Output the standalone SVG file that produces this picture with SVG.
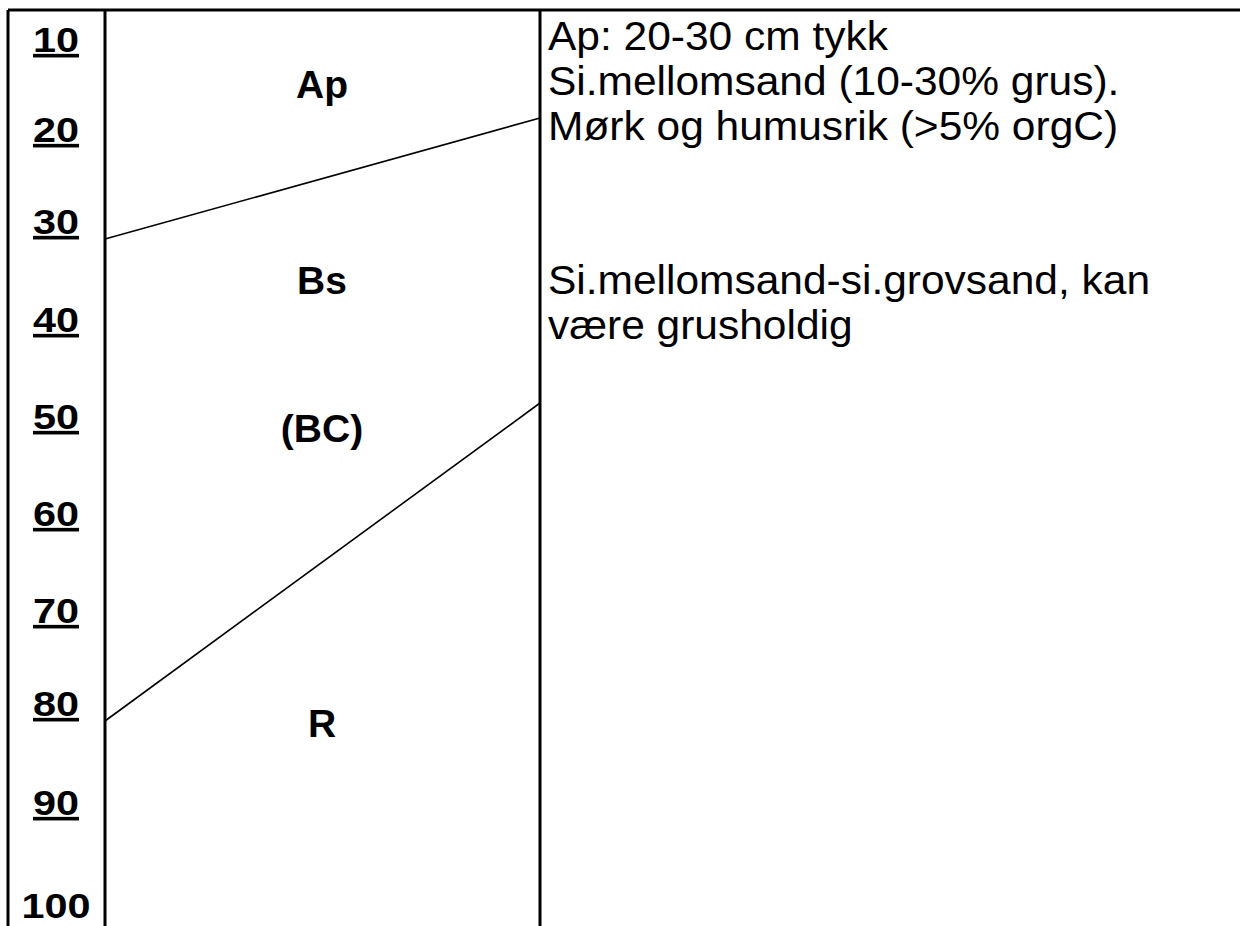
<svg xmlns="http://www.w3.org/2000/svg" width="1240" height="926" viewBox="0 0 1240 926">
<style>
.frame{stroke:#000;stroke-width:3;fill:none}
.conn{stroke:#000;stroke-width:1.6;fill:none}
.num{font-family:"Liberation Sans",Arial,sans-serif;font-weight:bold;font-size:36px;text-anchor:middle;fill:#000}
.ul{text-decoration:underline}
.hz{font-family:"Liberation Sans",Arial,sans-serif;font-weight:bold;font-size:39px;text-anchor:middle;fill:#000}
.desc{font-family:"Liberation Sans",Arial,sans-serif;font-size:40px;fill:#000}
</style>
<rect width="1240" height="926" fill="#fff"/>
<g id="frame">
<line class="frame" x1="8" y1="10" x2="1240" y2="10"/>
<line class="frame" x1="8" y1="10" x2="8" y2="926"/>
<line class="frame" x1="105" y1="10" x2="105" y2="926"/>
<line class="frame" x1="540" y1="10" x2="540" y2="926"/>
</g>
<g id="depth-scale">
<text class="num ul" transform="translate(56,52) scale(1.15,1)">10</text>
<text class="num ul" transform="translate(56,142) scale(1.15,1)">20</text>
<text class="num ul" transform="translate(56,234) scale(1.15,1)">30</text>
<text class="num ul" transform="translate(56,332) scale(1.15,1)">40</text>
<text class="num ul" transform="translate(56,429) scale(1.15,1)">50</text>
<text class="num ul" transform="translate(56,526) scale(1.15,1)">60</text>
<text class="num ul" transform="translate(56,623) scale(1.15,1)">70</text>
<text class="num ul" transform="translate(56,716) scale(1.15,1)">80</text>
<text class="num ul" transform="translate(56,815) scale(1.15,1)">90</text>
<text class="num" transform="translate(56,918) scale(1.15,1)">100</text>
</g>
<g id="horizon-Ap"><text class="hz" x="322" y="98">Ap</text></g>
<g id="horizon-Bs"><text class="hz" x="322" y="294">Bs</text></g>
<g id="horizon-BC"><text class="hz" x="322" y="442">(BC)</text></g>
<g id="horizon-R"><text class="hz" x="322" y="737">R</text></g>
<g id="desc-Ap" transform="translate(548,0) scale(1.0625,1)">
<text class="desc" x="0" y="50">Ap: 20-30 cm tykk</text>
<text class="desc" x="0" y="95">Si.mellomsand (10-30% grus).</text>
<text class="desc" x="0" y="140">Mørk og humusrik (&gt;5% orgC)</text>
</g>
<g id="desc-Bs" transform="translate(548,0) scale(1.0625,1)">
<text class="desc" x="0" y="294">Si.mellomsand-si.grovsand, kan</text>
<text class="desc" x="0" y="339">være grusholdig</text>
</g>
<g id="connectors">
<line class="conn" x1="105" y1="239" x2="540" y2="118"/>
<line class="conn" x1="105" y1="721" x2="540" y2="403"/>
</g>
</svg>
